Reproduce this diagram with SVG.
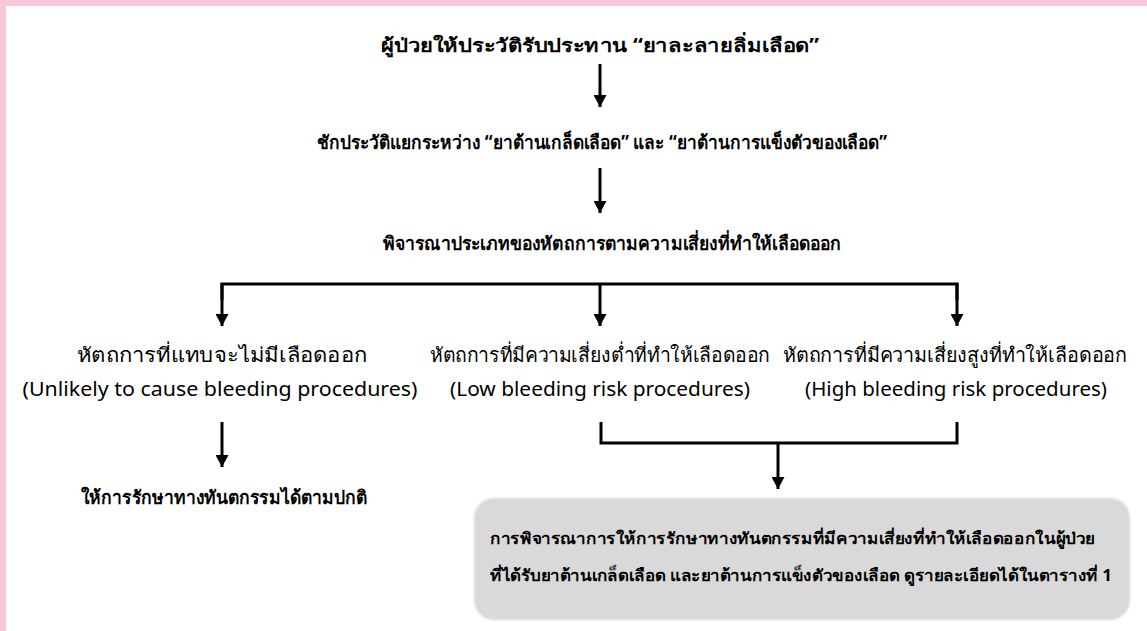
<svg xmlns="http://www.w3.org/2000/svg" width="1147" height="631" viewBox="0 0 1147 631">
<defs>
<marker id="ah" viewBox="0 0 12 13" refX="12" refY="6.5" markerWidth="12" markerHeight="13" markerUnits="userSpaceOnUse" orient="auto">
<path d="M0,0 L12,6.5 L0,13 Z" fill="#000"/>
</marker>
<style>
.b{font-family:"Noto Sans","DejaVu Sans",sans-serif;font-weight:bold;font-size:19px;fill:#000;text-anchor:middle}
.r{font-family:"Noto Sans","DejaVu Sans",sans-serif;font-size:20px;fill:#000;text-anchor:middle}
.bx{font-family:"Noto Sans","DejaVu Sans",sans-serif;font-weight:bold;font-size:16px;fill:#000}
.ln{stroke:#000;stroke-width:3;fill:none}
.ar{stroke:#000;stroke-width:3;fill:none;marker-end:url(#ah)}
</style>
<filter id="soft" x="-5%" y="-10%" width="110%" height="120%"><feGaussianBlur stdDeviation="1.2"/></filter>
</defs>
<rect x="0" y="0" width="1147" height="631" fill="#fff"/>
<rect x="0" y="0" width="1147" height="6" fill="#f5c8dc"/>
<rect x="0" y="0" width="6" height="631" fill="#f5c8dc"/>

<g id="connectors">
<line class="ar" x1="600" y1="64" x2="600" y2="107"/>
<line class="ar" x1="600" y1="168" x2="600" y2="213"/>
<polyline class="ln" points="222,300 222,284 957,284 957,300"/>
<line class="ar" x1="222" y1="283" x2="222" y2="326"/>
<line class="ar" x1="600" y1="283" x2="600" y2="326"/>
<line class="ar" x1="957" y1="283" x2="957" y2="326"/>
<line class="ar" x1="222" y1="422" x2="222" y2="467"/>
<polyline class="ln" points="601,422 601,443 957,443 957,422"/>
<line class="ar" x1="778" y1="443" x2="778" y2="489"/>
</g>

<g id="n1"><text class="b" x="600" y="52" textLength="438" lengthAdjust="spacingAndGlyphs">ผู้ป่วยให้ประวัติรับประทาน “ยาละลายลิ่มเลือด”</text></g>
<g id="n2"><text class="b" x="602" y="149" textLength="570" lengthAdjust="spacingAndGlyphs">ชักประวัติแยกระหว่าง “ยาต้านเกล็ดเลือด” และ “ยาต้านการแข็งตัวของเลือด”</text></g>
<g id="n3"><text class="b" x="612" y="250" textLength="459" lengthAdjust="spacingAndGlyphs">พิจารณาประเภทของหัตถการตามความเสี่ยงที่ทำให้เลือดออก</text></g>
<g id="n4">
<text class="r" x="222" y="362" textLength="290" lengthAdjust="spacingAndGlyphs">หัตถการที่แทบจะไม่มีเลือดออก</text>
<text class="r" x="220" y="396" textLength="395" lengthAdjust="spacingAndGlyphs">(Unlikely to cause bleeding procedures)</text>
</g>
<g id="n5">
<text class="r" x="600" y="362" textLength="340" lengthAdjust="spacingAndGlyphs">หัตถการที่มีความเสี่ยงต่ำที่ทำให้เลือดออก</text>
<text class="r" x="600" y="396" textLength="300" lengthAdjust="spacingAndGlyphs">(Low bleeding risk procedures)</text>
</g>
<g id="n6">
<text class="r" x="955" y="362" textLength="344" lengthAdjust="spacingAndGlyphs">หัตถการที่มีความเสี่ยงสูงที่ทำให้เลือดออก</text>
<text class="r" x="956" y="396" textLength="302" lengthAdjust="spacingAndGlyphs">(High bleeding risk procedures)</text>
</g>
<g id="n7"><text class="b" x="224" y="504" textLength="286" lengthAdjust="spacingAndGlyphs">ให้การรักษาทางทันตกรรมได้ตามปกติ</text></g>
<g id="n8">
<rect x="474" y="498" width="656" height="122" rx="20" fill="#d9d9d9" filter="url(#soft)"/>
<text class="bx" x="490" y="544" textLength="605" lengthAdjust="spacingAndGlyphs">การพิจารณาการให้การรักษาทางทันตกรรมที่มีความเสี่ยงที่ทำให้เลือดออกในผู้ป่วย</text>
<text class="bx" x="490" y="581" textLength="622" lengthAdjust="spacingAndGlyphs">ที่ได้รับยาต้านเกล็ดเลือด และยาต้านการแข็งตัวของเลือด ดูรายละเอียดได้ในตารางที่ 1</text>
</g>
</svg>
